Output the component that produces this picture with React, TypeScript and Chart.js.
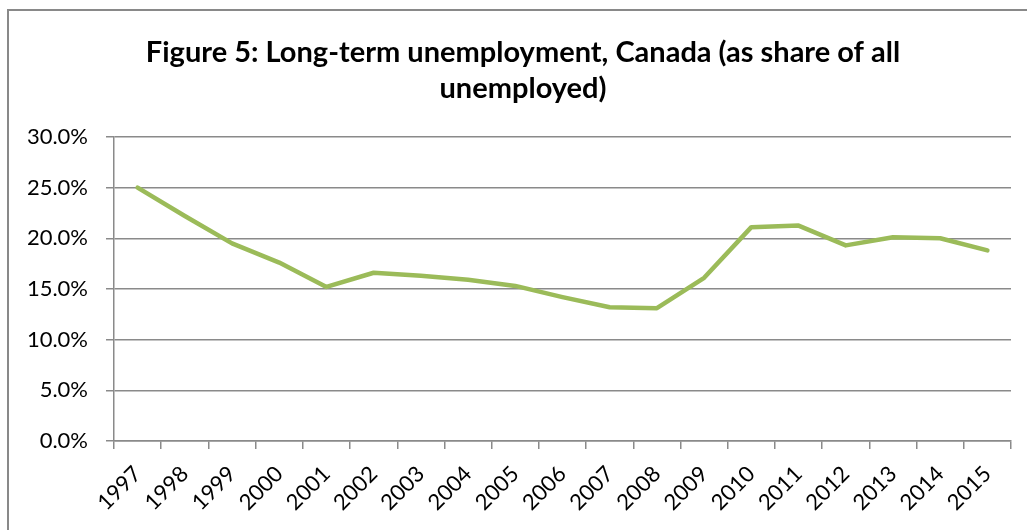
import React, { useEffect, useRef } from "react";
import { Chart, registerables } from "chart.js";

Chart.register(...registerables);

const years = [
  "1997", "1998", "1999", "2000", "2001", "2002", "2003", "2004", "2005", "2006",
  "2007", "2008", "2009", "2010", "2011", "2012", "2013", "2014", "2015",
];
const longTermShare = [
  25.0, 22.2, 19.5, 17.6, 15.2, 16.6, 16.3, 15.9, 15.3, 14.2,
  13.2, 13.1, 16.1, 21.1, 21.25, 19.3, 20.1, 20.0, 18.8,
];
const titleLines = ["Figure 5: Long-term unemployment, Canada (as share of all", "unemployed)"];
const yMin = 0;
const yMax = 30;
const yStep = 5;

const titleShift = {
  id: "titleShift",
  afterLayout(chart: any) {
    const tb = chart.titleBlock;
    if (tb) {
      tb.left = 35;
      tb.right = chart.width - 16;
      tb.width = tb.right - tb.left;
    }
  },
};

export default function App() {
  const canvasRef = useRef<HTMLCanvasElement | null>(null);

  useEffect(() => {
    document.body.style.margin = "0";
    const canvas = canvasRef.current;
    if (!canvas) return;
    const gridColor = "#8a8a8a";
    const chart = new Chart(canvas, {
      type: "line",
      data: {
        labels: years,
        datasets: [
          {
            label: "Long-term unemployment share",
            data: longTermShare,
            borderColor: "#9BBB59",
            backgroundColor: "#9BBB59",
            borderWidth: 4.5,
            pointRadius: 0,
            pointHoverRadius: 0,
            tension: 0,
            borderCapStyle: "round",
            borderJoinStyle: "round",
          },
        ],
      },
      plugins: [titleShift],
      options: {
        responsive: false,
        animation: false,
        layout: { padding: { left: 0, right: 16, top: 0, bottom: 0 } },
        plugins: {
          legend: { display: false },
          tooltip: { enabled: false },
          title: {
            display: true,
            text: titleLines,
            color: "#000",
            font: { family: "Lato", size: 29, weight: "bold", lineHeight: 1.24 },
            padding: { top: 35, bottom: 30 },
          },
        },
        scales: {
          x: {
            type: "category",
            offset: true,
            grid: {
              display: true,
              offset: true,
              drawOnChartArea: false,
              drawTicks: true,
              tickLength: 8,
              color: gridColor,
              lineWidth: 1.5,
            },
            border: { display: true, color: gridColor, width: 1.5 },
            ticks: {
              color: "#000",
              font: { family: "Lato", size: 22 },
              minRotation: 45,
              maxRotation: 45,
              autoSkip: false,
              padding: 12,
            },
            afterFit: (scale: any) => {
              scale.height = 89;
            },
          },
          y: {
            min: yMin,
            max: yMax,
            grid: {
              color: gridColor,
              lineWidth: 1.5,
              drawTicks: true,
              tickLength: 8,
            },
            border: { display: true, color: gridColor, width: 1.5 },
            ticks: {
              stepSize: yStep,
              color: "#000",
              font: { family: "Lato", size: 22 },
              padding: 18,
              callback: (v: any) => Number(v).toFixed(1) + "%",
            },
            afterFit: (scale: any) => {
              scale.width = 114;
            },
          },
        },
      },
    });
    return () => chart.destroy();
  }, []);

  return (
    <div style={{ position: "relative", width: 1027, height: 530, overflow: "hidden", background: "#fff" }}>
      <div
        style={{
          position: "absolute",
          left: 7,
          top: 9,
          width: 1200,
          height: 700,
          border: "2px solid #898989",
          boxSizing: "border-box",
        }}
      />
      <canvas
        ref={canvasRef}
        width={1027}
        height={530}
        style={{ position: "absolute", left: 0, top: 0, width: 1027, height: 530 }}
      />
    </div>
  );
}
